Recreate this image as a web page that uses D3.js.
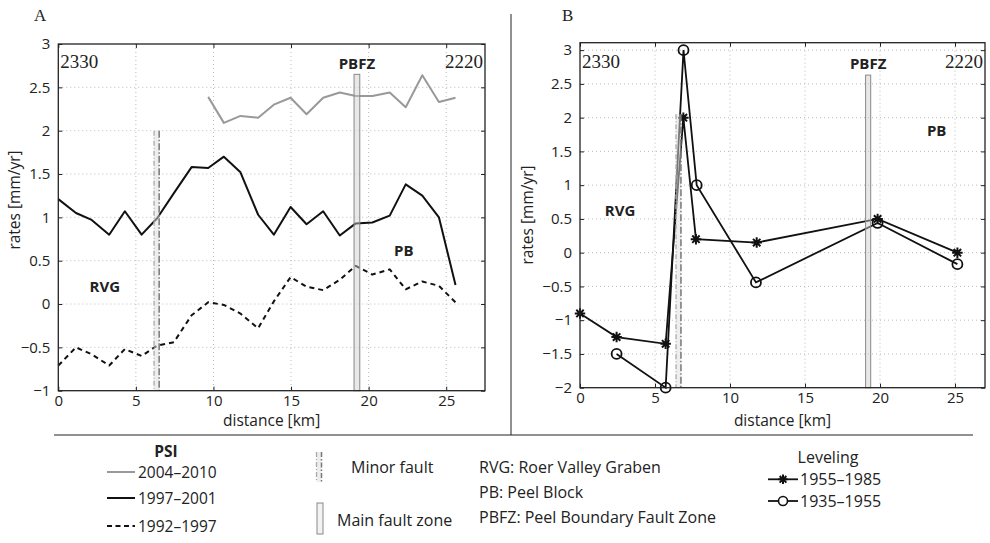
<!DOCTYPE html>
<html>
<head>
<meta charset="utf-8">
<script src="https://cdn.jsdelivr.net/npm/d3@7"></script>
<style>
  html, body { margin: 0; padding: 0; background: #fff; }
  svg { display: block; }
  text { font-family: "Open Sans", "Noto Sans", sans-serif; fill: #222; }
  .serif { font-family: "Liberation Serif", "DejaVu Serif", serif; }
</style>
</head>
<body>
<svg id="chart" width="990" height="543"></svg>
<script>
// ---- PSI profile (panel A) ----
const psiDistance = [0, 1.14, 2.15, 3.28, 4.29, 5.37, 6.37, 7.45, 8.59, 9.66, 10.67, 11.74, 12.88,
  13.89, 14.97, 16.0, 17.07, 18.14, 19.17, 20.24, 21.36, 22.39, 23.46, 24.53, 25.6];
const psi2004_2010 = [null, null, null, null, null, null, null, null, null,
  2.39, 2.09, 2.17, 2.15, 2.30, 2.38, 2.19, 2.38, 2.44, 2.40, 2.40, 2.44, 2.27, 2.64, 2.33, 2.38];
const psi1997_2001 = [1.21, 1.05, 0.97, 0.80, 1.07, 0.80, 0.99, 1.28, 1.58, 1.57, 1.70, 1.52, 1.03,
  0.80, 1.12, 0.92, 1.07, 0.79, 0.93, 0.94, 1.02, 1.38, 1.25, 1.00, 0.22];
const psi1992_1997 = [-0.71, -0.50, -0.58, -0.71, -0.52, -0.60, -0.48, -0.44, -0.13, 0.02, -0.01, -0.11, -0.28,
  0.03, 0.31, 0.20, 0.16, 0.28, 0.44, 0.34, 0.40, 0.17, 0.26, 0.21, 0.02];

// ---- Leveling profile (panel B) ----
const lev1955Distance = [0, 2.44, 5.71, 6.89, 7.73, 11.78, 19.84, 25.16];
const lev1955_1985 = [-0.90, -1.25, -1.35, 2.0, 0.20, 0.15, 0.50, 0.0];
const lev1935Distance = [2.44, 5.71, 6.9, 7.78, 11.73, 19.84, 25.16];
const lev1935_1955 = [-1.5, -2.0, 3.0, 1.0, -0.44, 0.44, -0.17];

// ---- Faults: [from km, to km, top rate] ----
const minorFaultA = [6.17, 6.5, 2.0];
const mainFaultA = [19.06, 19.43, 2.65];
const minorFaultB = [6.4, 6.73, 2.05];
const mainFaultB = [19.04, 19.38, 2.63];

// ---- Axis ticks ----
const xTicks = [0, 5, 10, 15, 20, 25];
const yTicksA = [-1, -0.5, 0, 0.5, 1, 1.5, 2, 2.5, 3];
const yTicksB = [-2, -1.5, -1, -0.5, 0, 0.5, 1, 1.5, 2, 2.5, 3];

const svg = d3.select("#chart");
const fmt = d => (d < 0 ? "\u2212" : "") + Math.abs(d);

// MATLAB-style asterisk marker (plus + cross)
const symbolStar = {
  draw(ctx, size) {
    const r = Math.sqrt(size) / 2;
    const d = r * Math.SQRT1_2;
    ctx.moveTo(-r, 0); ctx.lineTo(r, 0);
    ctx.moveTo(0, -r); ctx.lineTo(0, r);
    ctx.moveTo(-d, -d); ctx.lineTo(d, d);
    ctx.moveTo(-d, d); ctx.lineTo(d, -d);
  }
};

function panel(cfg) {
  const g = svg.append("g");
  const x = d3.scaleLinear().domain(cfg.xDomain).range([cfg.left, cfg.right]);
  const y = d3.scaleLinear().domain(cfg.yDomain).range([cfg.bottom, cfg.top]);

  // dotted grid
  g.append("g").selectAll("line").data(xTicks.filter(t => t > cfg.xDomain[0])).join("line")
    .attr("x1", d => x(d)).attr("x2", d => x(d)).attr("y1", cfg.top).attr("y2", cfg.bottom)
    .attr("stroke", "#bbb").attr("stroke-width", 1).attr("stroke-dasharray", "1,3");
  g.append("g").selectAll("line").data(cfg.yTicks.filter(t => t > cfg.yDomain[0] && t < cfg.yDomain[1])).join("line")
    .attr("x1", cfg.left).attr("x2", cfg.right).attr("y1", d => y(d)).attr("y2", d => y(d))
    .attr("stroke", "#bbb").attr("stroke-width", 1).attr("stroke-dasharray", "1,3");

  // axes with inward ticks
  const ax = (sel) => sel.call(s => s.select(".domain").remove())
    .call(s => s.selectAll(".tick line").attr("stroke", "#222"));
  g.append("g").attr("transform", `translate(0,${cfg.bottom})`)
    .call(d3.axisBottom(x).tickValues(xTicks).tickFormat(fmt).tickSizeInner(-4).tickSizeOuter(0).tickPadding(5))
    .call(ax).call(s => s.selectAll("text").attr("font-size", 15).attr("font-family", "Open Sans").attr("fill", "#222"));
  g.append("g").attr("transform", `translate(${cfg.left},0)`)
    .call(d3.axisLeft(y).tickValues(cfg.yTicks).tickFormat(fmt).tickSizeInner(-4).tickSizeOuter(0).tickPadding(8))
    .call(ax).call(s => s.selectAll("text").attr("font-size", 15).attr("font-family", "Open Sans").attr("fill", "#222"));
  g.append("g").attr("transform", `translate(0,${cfg.top})`)
    .call(d3.axisTop(x).tickValues(xTicks).tickFormat("").tickSizeInner(-4).tickSizeOuter(0)).call(ax);
  g.append("g").attr("transform", `translate(${cfg.right},0)`)
    .call(d3.axisRight(y).tickValues(cfg.yTicks).tickFormat("").tickSizeInner(-4).tickSizeOuter(0)).call(ax);

  // data
  cfg.draw(g, x, y);

  // minor fault: narrow shaded band with dash-dot edges
  const mf = cfg.minorFault;
  g.append("rect").attr("x", x(mf[0])).attr("y", y(mf[2]))
    .attr("width", x(mf[1]) - x(mf[0])).attr("height", cfg.bottom - y(mf[2]))
    .attr("fill", "#ddd").attr("fill-opacity", 0.5);
  g.append("line").attr("x1", x(mf[0])).attr("x2", x(mf[0])).attr("y1", y(mf[2])).attr("y2", cfg.bottom)
    .attr("stroke", "#aaa").attr("stroke-width", 1.3).attr("stroke-dasharray", "5,2,1,2");
  g.append("line").attr("x1", x(mf[1])).attr("x2", x(mf[1])).attr("y1", y(mf[2])).attr("y2", cfg.bottom)
    .attr("stroke", "#777").attr("stroke-width", 1.5).attr("stroke-dasharray", "7,2,1.5,2");

  // main fault zone
  const zf = cfg.mainFault;
  g.append("rect").attr("x", x(zf[0])).attr("y", y(zf[2]))
    .attr("width", x(zf[1]) - x(zf[0])).attr("height", cfg.bottom - y(zf[2]))
    .attr("fill", "#ccc").attr("fill-opacity", 0.45).attr("stroke", "#888").attr("stroke-width", 1);

  // labels inside axes
  g.append("text").attr("class", "serif").attr("x", cfg.left + 2).attr("y", 68)
    .attr("font-size", 19).text("2330");
  g.append("text").attr("class", "serif").attr("x", cfg.right - 2).attr("y", 68)
    .attr("text-anchor", "end").attr("font-size", 19).text("2220");
  g.append("text").attr("x", x((zf[0] + zf[1]) / 2)).attr("y", 69)
    .attr("text-anchor", "middle").attr("font-size", 15).attr("font-weight", "bold").text("PBFZ");
  g.append("text").attr("x", x(cfg.rvg[0])).attr("y", y(cfg.rvg[1]))
    .attr("text-anchor", "middle").attr("font-size", 15).attr("font-weight", "bold").text("RVG");
  g.append("text").attr("x", x(cfg.pb[0])).attr("y", y(cfg.pb[1]))
    .attr("text-anchor", "middle").attr("font-size", 15).attr("font-weight", "bold").text("PB");

  // box
  g.append("rect").attr("x", cfg.left).attr("y", cfg.top)
    .attr("width", cfg.right - cfg.left).attr("height", cfg.bottom - cfg.top)
    .attr("fill", "none").attr("stroke", "#222").attr("stroke-width", 1.3);

  // titles
  g.append("text").attr("x", (cfg.left + cfg.right) / 2).attr("y", 426)
    .attr("text-anchor", "middle").attr("font-size", 15.5).text("distance [km]");
  g.append("text").attr("transform", `translate(${cfg.yTitle[0]},${cfg.yTitle[1]}) rotate(-90)`)
    .attr("text-anchor", "middle").attr("dy", "0.35em").attr("font-size", 15.5).text("rates [mm/yr]");
  g.append("text").attr("class", "serif").attr("x", cfg.letter[0]).attr("y", cfg.letter[1])
    .attr("font-size", 17).text(cfg.name);
}

// Panel A: PSI rates
panel({
  name: "A", letter: [34, 21],
  left: 58.3, right: 485, top: 44, bottom: 390.7,
  xDomain: [0, 27.5], yDomain: [-1, 3], yTicks: yTicksA,
  minorFault: minorFaultA, mainFault: mainFaultA,
  rvg: [3.0, 0.14], pb: [22.27, 0.555], yTitle: [15, 200],
  draw(g, x, y) {
    const line = d3.line().defined(d => d[1] != null).x(d => x(d[0])).y(d => y(d[1]));
    const series = [
      { v: psi1992_1997, color: "#111", dash: "5,4" },
      { v: psi1997_2001, color: "#111", dash: null },
      { v: psi2004_2010, color: "#999", dash: null }
    ];
    series.forEach(s => {
      g.append("path").datum(psiDistance.map((d, i) => [d, s.v[i]]))
        .attr("d", line).attr("fill", "none").attr("stroke", s.color)
        .attr("stroke-width", 2).attr("stroke-dasharray", s.dash)
        .attr("stroke-linejoin", "round");
    });
  }
});

// Panel B: leveling rates
panel({
  name: "B", letter: [562, 21],
  left: 580, right: 985, top: 42.7, bottom: 387.7,
  xDomain: [0, 27], yDomain: [-2, 3.11], yTicks: yTicksB,
  minorFault: minorFaultB, mainFault: mainFaultB,
  rvg: [2.67, 0.55], pb: [23.78, 1.73], yTitle: [528, 215],
  draw(g, x, y) {
    const line = d3.line().x(d => x(d[0])).y(d => y(d[1]));
    const a = lev1955Distance.map((d, i) => [d, lev1955_1985[i]]);
    const b = lev1935Distance.map((d, i) => [d, lev1935_1955[i]]);
    [a, b].forEach(pts => g.append("path").datum(pts).attr("d", line)
      .attr("fill", "none").attr("stroke", "#111").attr("stroke-width", 1.8));
    g.append("g").selectAll("path").data(a).join("path")
      .attr("transform", d => `translate(${x(d[0])},${y(d[1])})`)
      .attr("d", d3.symbol(symbolStar, 110)).attr("fill", "none")
      .attr("stroke", "#111").attr("stroke-width", 2);
    g.append("g").selectAll("circle").data(b).join("circle")
      .attr("cx", d => x(d[0])).attr("cy", d => y(d[1])).attr("r", 5)
      .attr("fill", "none").attr("stroke", "#111").attr("stroke-width", 1.8);
  }
});

// separators
svg.append("line").attr("x1", 511).attr("x2", 511).attr("y1", 14).attr("y2", 435)
  .attr("stroke", "#222").attr("stroke-width", 1);
svg.append("line").attr("x1", 54).attr("x2", 973).attr("y1", 435).attr("y2", 435)
  .attr("stroke", "#222").attr("stroke-width", 1.2);

// ---- legend ----
const leg = svg.append("g");
leg.append("text").attr("x", 166).attr("y", 456.5).attr("text-anchor", "middle")
  .attr("font-size", 15.5).attr("font-weight", "bold").text("PSI");
const psiLegend = [
  { label: "2004\u20132010", color: "#999", dash: null, y: 472 },
  { label: "1997\u20132001", color: "#111", dash: null, y: 498 },
  { label: "1992\u20131997", color: "#111", dash: "5,3.5", y: 526 }
];
psiLegend.forEach(s => {
  leg.append("line").attr("x1", 107).attr("x2", 135).attr("y1", s.y).attr("y2", s.y)
    .attr("stroke", s.color).attr("stroke-width", 2).attr("stroke-dasharray", s.dash);
  leg.append("text").attr("x", 138).attr("y", s.y).attr("dy", "0.36em")
    .attr("font-size", 15.5).text(s.label);
});

// fault symbols
leg.append("rect").attr("x", 316.5).attr("y", 452).attr("width", 5).attr("height", 30)
  .attr("fill", "#eee");
leg.append("line").attr("x1", 316.5).attr("x2", 316.5).attr("y1", 452).attr("y2", 482)
  .attr("stroke", "#aaa").attr("stroke-width", 1.3).attr("stroke-dasharray", "5,2,1,2");
leg.append("line").attr("x1", 321.5).attr("x2", 321.5).attr("y1", 452).attr("y2", 482)
  .attr("stroke", "#777").attr("stroke-width", 1.5).attr("stroke-dasharray", "5,2,1.5,2");
leg.append("text").attr("x", 351).attr("y", 473.3).attr("font-size", 16).text("Minor fault");
leg.append("rect").attr("x", 317).attr("y", 503).attr("width", 6).attr("height", 31)
  .attr("fill", "#f2f2f2").attr("stroke", "#888").attr("stroke-width", 1);
leg.append("text").attr("x", 337).attr("y", 526).attr("font-size", 16).text("Main fault zone");

// abbreviations
[["RVG: Roer Valley Graben", 472.7], ["PB: Peel Block", 497.7], ["PBFZ: Peel Boundary Fault Zone", 522.7]]
  .forEach(([t, yy]) => leg.append("text").attr("x", 479).attr("y", yy).attr("font-size", 16).text(t));

// leveling legend
leg.append("text").attr("x", 828).attr("y", 462.7).attr("text-anchor", "middle")
  .attr("font-size", 16).text("Leveling");
leg.append("line").attr("x1", 768).attr("x2", 798).attr("y1", 479.3).attr("y2", 479.3)
  .attr("stroke", "#111").attr("stroke-width", 1.8);
leg.append("path").attr("transform", "translate(783,479.3)").attr("d", d3.symbol(symbolStar, 90)())
  .attr("fill", "none").attr("stroke", "#111").attr("stroke-width", 2);
leg.append("text").attr("x", 800).attr("y", 485).attr("font-size", 16).text("1955\u20131985");
leg.append("line").attr("x1", 768).attr("x2", 798).attr("y1", 501).attr("y2", 501)
  .attr("stroke", "#111").attr("stroke-width", 1.8);
leg.append("circle").attr("cx", 783).attr("cy", 501).attr("r", 4.5)
  .attr("fill", "#fff").attr("stroke", "#111").attr("stroke-width", 1.6);
leg.append("text").attr("x", 800).attr("y", 506.7).attr("font-size", 16).text("1935\u20131955");
</script>
</body>
</html>
